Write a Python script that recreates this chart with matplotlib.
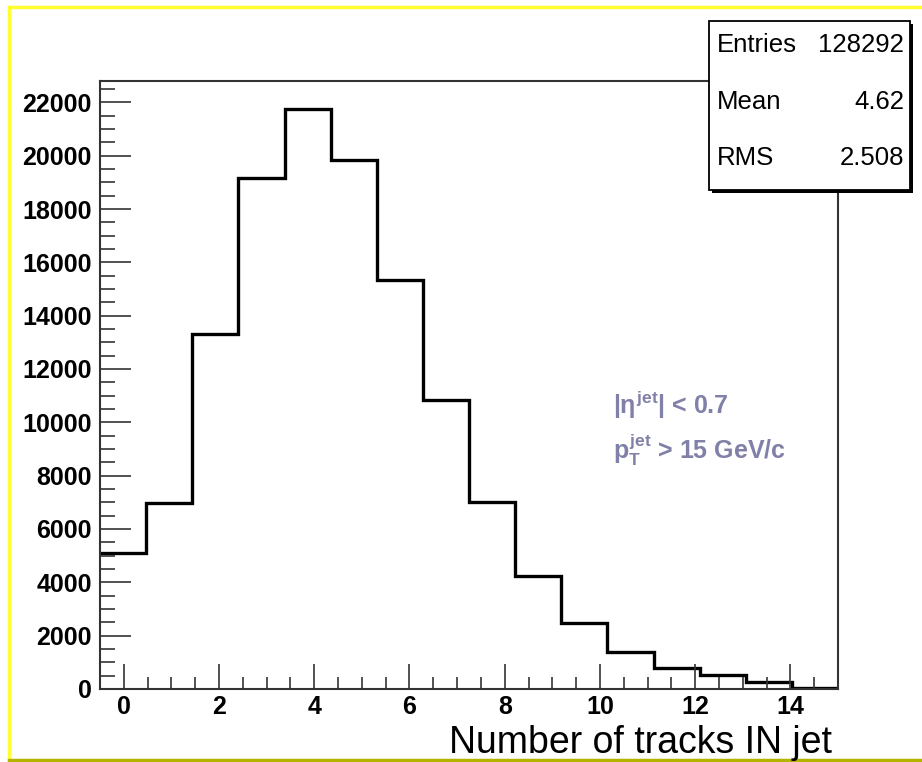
import numpy as np
import matplotlib
matplotlib.use("Agg")
import matplotlib.pyplot as plt
from matplotlib.patches import Rectangle
from matplotlib.lines import Line2D
from matplotlib.ticker import MultipleLocator

plt.rcParams['font.family'] = ['Liberation Sans', 'DejaVu Sans']
plt.rcParams['mathtext.fontset'] = 'custom'
plt.rcParams['mathtext.rm'] = 'Liberation Sans:bold'
plt.rcParams['mathtext.it'] = 'Liberation Sans:bold'
plt.rcParams['mathtext.bf'] = 'Liberation Sans:bold'

# ---- data ----
x_min, x_max, n_bins = -0.5, 15.0, 16
counts = [5100, 6960, 13320, 19170, 21750, 19840, 15330, 10830,
          7000, 4230, 2460, 1380, 800, 510, 280, 20]
x_ticks = [0, 2, 4, 6, 8, 10, 12, 14]
y_ticks = [0, 2000, 4000, 6000, 8000, 10000, 12000, 14000, 16000, 18000, 20000, 22000]
stats_labels = ["Entries", "Mean", "RMS"]
stats_values = ["128292", "4.62", "2.508"]
x_title = "Number of tracks IN jet"
cut_lines = [r"|$\eta^{jet}$| < 0.7", r"$p_{T}^{jet}$ > 15 GeV/c"]

W, H = 922, 762
fig = plt.figure(figsize=(W / 100, H / 100), dpi=100)

# pad border (yellow)
fig.add_artist(Line2D([9 / W, 1.0], [1 - 7 / H, 1 - 7 / H], transform=fig.transFigure,
                      color='#ffff30', lw=2.5))
fig.add_artist(Line2D([9 / W, 9 / W], [1 - 7 / H, 1 - 760 / H], transform=fig.transFigure,
                      color='#ffff30', lw=2.5))
fig.add_artist(Line2D([9 / W, 1.0], [1 - 760 / H, 1 - 760 / H], transform=fig.transFigure,
                      color='#b4b400', lw=2.5))

L, R, T, B = 100, 838, 81, 689
ax = fig.add_axes([L / W, 1 - B / H, (R - L) / W, (B - T) / H])

edges = np.linspace(x_min, x_max, n_bins + 1)
ax.stairs(counts, edges, color='black', lw=2.4, baseline=None)

ax.set_xlim(x_min, x_max)
ax.set_ylim(0, 22800)
ax.set_xticks(x_ticks)
ax.set_yticks(y_ticks)
ax.xaxis.set_minor_locator(MultipleLocator(0.5))
ax.yaxis.set_minor_locator(MultipleLocator(500))
ax.tick_params(which='both', direction='in', top=False, right=False, color='#333333', width=1.2)
ax.tick_params(which='major', axis='x', length=18, pad=4)
ax.tick_params(which='minor', axis='x', length=9)
ax.tick_params(which='major', axis='y', length=22, pad=6)
ax.tick_params(which='minor', axis='y', length=11)
for lab in ax.get_xticklabels() + ax.get_yticklabels():
    lab.set_fontsize(18)
    lab.set_fontweight('bold')
for s in ax.spines.values():
    s.set_color('#333333')
    s.set_linewidth(1.5)

# axis title
fig.text(832 / W, 1 - 743 / H, x_title, ha='right', va='center', fontsize=27, color='black')

# cut text
for line, yy in zip(cut_lines, [405, 450]):
    fig.text(613 / W, 1 - yy / H, line, fontsize=18, color='#8080a8',
             fontweight='bold', ha='left', va='center')

# stats box
bx0, bx1, by0, by1 = 709, 910, 21, 190
fig.add_artist(Rectangle((bx0 / W + 2.5 / W, 1 - (by1 + 2.5) / H), (bx1 - bx0) / W, (by1 - by0) / H,
                         transform=fig.transFigure, facecolor='black', edgecolor='black', lw=0, zorder=5))
fig.add_artist(Rectangle((bx0 / W, 1 - by1 / H), (bx1 - bx0) / W, (by1 - by0) / H,
                         transform=fig.transFigure, facecolor='white', edgecolor='black', lw=1.3, zorder=6))
rows_y = [45, 102, 158]
for lab, val, yy in zip(stats_labels, stats_values, rows_y):
    fig.text(717 / W, 1 - yy / H, lab, ha='left', va='center', fontsize=18.5, zorder=7)
    fig.text(904 / W, 1 - yy / H, val, ha='right', va='center', fontsize=18.5, zorder=7)

fig.savefig("out.png", dpi=100)
